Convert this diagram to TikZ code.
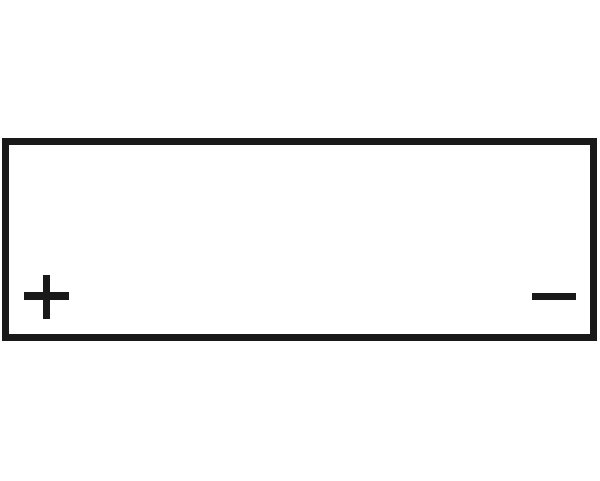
\documentclass[tikz,border=0pt]{standalone}
\begin{document}
\begin{tikzpicture}[x=1pt,y=-1pt,
  frame/.style={line width=7pt,draw=black!90},
  sign/.style={line width=7.5pt,draw=black!90}]
\useasboundingbox (0,0) rectangle (600,480);
\draw[frame] (5,141.5) rectangle (593,337.5);
% plus
\draw[sign] (24,296) -- (69,296);
\draw[sign] (46.5,275) -- (46.5,319);
% minus
\draw[sign] (532,296.5) -- (576,296.5);
\end{tikzpicture}
\end{document}
